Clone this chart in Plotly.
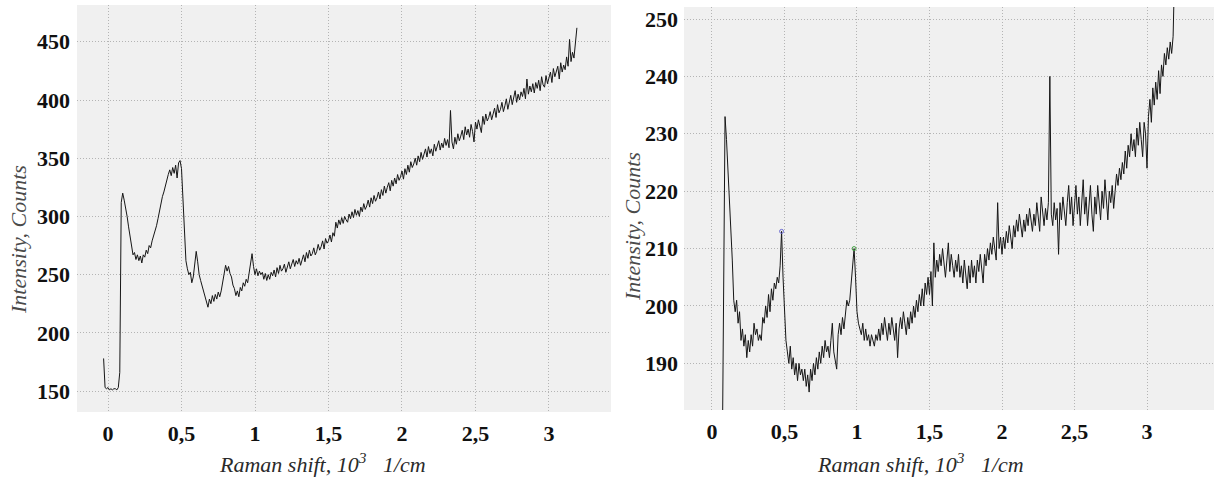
import plotly.graph_objects as go

# ---------------- data ----------------
# Left spectrum: Raman shift starts at -0.03 (10^3 1/cm), step 0.01
left_x0 = -0.03
left_dx = 0.01
left_counts = [
    178,
    153, 152, 153, 151, 152, 151, 152, 152, 151, 153,
    166, 312,
    320, 314, 308, 300, 291, 282, 274, 267, 269, 263,
    267, 262, 266, 260, 267, 265, 271, 268, 275, 273,
    279, 283, 287, 292, 298, 305, 310, 317, 321, 327,
    331, 336, 340, 335, 342, 337, 344, 333, 346, 348,
    341, 318, 284, 262, 255, 250, 252, 243, 248, 257,
    270, 261, 250, 245, 240, 236, 230, 227, 222, 229,
    225, 232, 227, 233, 229, 235, 231, 236, 243, 252,
    258, 253, 257, 251, 248, 241, 238, 232, 236, 231,
    239, 236, 243, 240, 246, 243, 251, 261, 268, 257,
    250, 255, 249, 253, 250, 252, 246, 251, 245, 250,
    246, 252, 249, 254, 248, 256, 251, 258, 253, 255,
    259, 252, 257, 261, 255, 260, 263, 257, 262, 259,
    264, 258, 263, 267, 261, 269, 264, 271, 266, 268,
    273, 267, 270, 276, 271, 274, 279, 272, 281, 277,
    279, 284, 278, 286, 283, 295, 290, 297, 293, 299,
    294, 300, 297, 295, 302, 298, 304, 299, 306, 301,
    305, 300, 308, 304, 311, 306, 309, 314, 308, 316,
    311, 318, 313, 316, 321, 315, 323, 318, 326, 320,
    325, 329, 322, 331, 326, 333, 328, 336, 331, 334,
    339, 332, 341, 336, 344, 338, 347, 342, 345, 350,
    344, 352, 347, 355, 349, 353, 358, 351, 360, 354,
    358, 352, 362, 356, 360, 365, 357, 363, 359, 367,
    361, 366, 359, 391, 364, 358, 368, 362, 371, 365,
    369, 374, 366, 377, 370, 375, 368, 379, 373, 364,
    381, 375, 383, 377, 372, 386, 379, 388, 382, 385,
    390, 383, 387, 393, 385, 396, 389, 392, 398, 390,
    395, 401, 392, 399, 404, 396, 402, 408, 398, 405,
    400, 407, 403, 410, 401, 418, 405, 412, 407, 414,
    406, 415, 410, 417, 408, 420, 413, 411, 421, 414,
    419, 424, 415, 427, 420, 425, 429, 418, 432, 424,
    430, 426, 437, 429, 452, 433, 441, 436, 447, 462,
]

# Right spectrum: starts at 0.07, step 0.01
right_x0 = 0.07
right_dx = 0.01
right_counts = [
    170, 201, 233,
    229, 224, 217, 212, 208, 201, 199, 201, 197, 199,
    194, 196, 193, 195, 191, 194, 192, 195, 193, 197,
    195, 196, 194, 195, 194, 198, 197, 200, 198, 202,
    199, 203, 201, 204, 203, 205, 204, 207, 213, 205,
    200, 194, 192, 190, 193, 189, 191, 188, 190, 187,
    190, 188, 189, 187, 189, 186, 188, 185, 189, 187,
    190, 188, 191, 189, 192, 190, 193, 191, 194, 192,
    193, 191, 194, 197, 192, 190, 189, 195, 197, 195,
    198, 196, 199, 201, 200, 201, 204, 208, 210, 205,
    199, 197, 196, 195, 197, 194, 196, 194, 195, 193,
    195, 194, 193, 195, 194, 196, 194, 197, 195, 198,
    196, 194, 197, 195, 198, 196, 194, 197, 191, 196,
    198, 196, 199, 197, 195, 198, 196, 199, 197, 200,
    198, 201, 199, 202, 200, 203, 200, 204, 202, 205,
    202, 206, 200, 211, 205, 208, 206, 209, 207, 210,
    207, 205, 208, 211, 206, 209, 207, 205, 208, 206,
    209, 205, 207, 204, 208, 205, 203, 207, 204, 208,
    205, 207, 204, 208, 206, 209, 207, 204, 209, 207,
    210, 208, 211, 209, 212, 210, 208, 218, 210, 212,
    209, 212, 210, 213, 211, 214, 212, 210, 214, 212,
    215, 213, 216, 214, 212, 215, 213, 216, 214, 217,
    215, 213, 216, 214, 218, 215, 213, 219, 216, 214,
    217, 215, 218, 240, 216, 214, 218, 215, 217, 209,
    218, 215, 219, 216, 214, 218, 221, 216, 219, 214,
    218, 221, 216, 219, 214, 218, 222, 216, 219, 214,
    218, 221, 216, 213, 219, 216, 221, 217, 215, 220,
    217, 222, 218, 215, 220, 218, 221, 217, 220, 223,
    221, 224, 222, 225, 223, 227, 224, 228, 226, 230,
    227, 229, 226, 231, 228, 232, 229, 226, 232, 230,
    224, 233, 236, 232, 238, 235, 239, 236, 241, 237,
    242, 240, 244, 242, 245, 243, 246, 244, 247, 258,
]

# marked peaks on the right spectrum
peak_x = [0.48, 0.98]
peak_y = [213, 210]
peak_colors = ["#6a6ad0", "#3f9f3f"]

x_tickvals = [0, 0.5, 1, 1.5, 2, 2.5, 3]
x_ticktext = ["0", "0,5", "1", "1,5", "2", "2,5", "3"]
left_yticks = [150, 200, 250, 300, 350, 400, 450]
right_yticks = [190, 200, 210, 220, 230, 240, 250]

x_title = "Raman shift, 10<sup>3</sup>\u00a0\u00a0 1/cm"
y_title = "Intensity, Counts"

# ---------------- figure ----------------
W, H = 1214, 479
fig = go.Figure()

line_style = dict(color="#161616", width=1.0)
fig.add_trace(go.Scatter(x0=left_x0, dx=left_dx, y=left_counts, mode="lines",
                         line=line_style, xaxis="x", yaxis="y", showlegend=False))
fig.add_trace(go.Scatter(x0=right_x0, dx=right_dx, y=right_counts, mode="lines",
                         line=line_style, xaxis="x2", yaxis="y2", showlegend=False))
fig.add_trace(go.Scatter(x=peak_x, y=peak_y, mode="markers",
                         marker=dict(symbol="circle-open", size=4, color=peak_colors,
                                     line=dict(width=1, color=peak_colors)),
                         xaxis="x2", yaxis="y2", showlegend=False))

tick_font = dict(family="Liberation Serif", size=22, color="#111111", weight="bold")
grid = dict(showgrid=True, gridcolor="#b4b4b4", gridwidth=1, griddash="1px,2px",
            zeroline=False, showline=False, ticks="", tickfont=tick_font)

fig.update_layout(
    width=W, height=H,
    margin=dict(l=0, r=0, t=0, b=0),
    paper_bgcolor="white",
    plot_bgcolor="#f0f0f0",
    xaxis=dict(domain=[77 / W, 611 / W], range=[-0.211, 3.422], anchor="y",
               tickvals=x_tickvals, ticktext=x_ticktext, ticklabelstandoff=6, **grid),
    yaxis=dict(domain=[1 - 412 / H, 1 - 5 / H], range=[132.0, 481.6], anchor="x",
               tickvals=left_yticks, ticklabelstandoff=6, **grid),
    xaxis2=dict(domain=[684 / W, 1.0], range=[-0.193, 3.462], anchor="y2",
                tickvals=x_tickvals, ticktext=x_ticktext, ticklabelstandoff=6, **grid),
    yaxis2=dict(domain=[1 - 410 / H, 1 - 7 / H], range=[181.88, 252.09], anchor="x2",
                tickvals=right_yticks, ticklabelstandoff=5, **grid),
)

title_font = dict(family="Liberation Serif", size=22, color="#2a2a2a", style="italic")
ytitle_font = dict(family="Liberation Serif", size=22, color="#4a4a4a", style="italic")
fig.add_annotation(x=322 / W, y=1 - 463 / H, xref="paper", yref="paper", text=x_title,
                   showarrow=False, font=title_font, xanchor="center", yanchor="middle")
fig.add_annotation(x=920 / W, y=1 - 463 / H, xref="paper", yref="paper", text=x_title,
                   showarrow=False, font=title_font, xanchor="center", yanchor="middle")
fig.add_annotation(x=18 / W, y=1 - 240 / H, xref="paper", yref="paper", text=y_title,
                   showarrow=False, font=ytitle_font, textangle=-90,
                   xanchor="center", yanchor="middle")
fig.add_annotation(x=632 / W, y=1 - 227 / H, xref="paper", yref="paper", text=y_title,
                   showarrow=False, font=ytitle_font, textangle=-90,
                   xanchor="center", yanchor="middle")

fig.write_html(
    "out.html",
    config={"displayModeBar": False},
    post_script="document.body.style.margin='0';document.body.style.overflow='hidden';",
)
